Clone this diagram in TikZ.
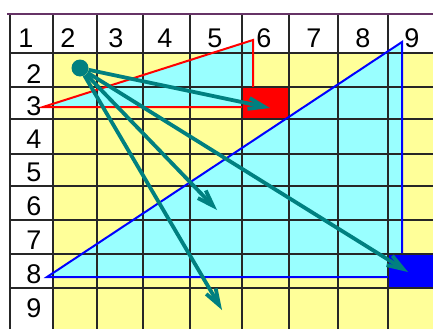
\documentclass[tikz,border=0pt]{standalone}
\usepackage{fontspec}
\setmainfont{Liberation Sans}
\usetikzlibrary{arrows.meta}

\definecolor{paleyellow}{HTML}{FFFF99}
\definecolor{palecyan}{HTML}{99FFFF}
\definecolor{tealray}{HTML}{008080}
\definecolor{topline}{HTML}{663366}

\begin{document}
\begin{tikzpicture}[
    x=1pt, y=-1pt,
    gridline/.style={black!85, line width=1.3pt},
    num/.style={font=\fontsize{27}{27}\selectfont, anchor=base, inner sep=0pt},
    edge/.style={line width=2pt, line join=miter},
    ray/.style={-{Straight Barb[length=16pt, width=11pt]}, tealray, line width=3.8pt},
  ]
  \useasboundingbox (0,0) rectangle (433,329);

  % cells
  \fill[paleyellow] (53,53) rectangle (433,329);
  \fill[palecyan] (43,107) -- (253,40) -- (253,107) -- cycle;
  \fill[palecyan] (47,277) -- (402,42) -- (402,277) -- cycle;
  \fill[red] (242,87) rectangle (289,119);
  \fill[blue] (388,253) rectangle (433,289);

  % grid
  \foreach \x in {10,53,97,143,190,242,289,338,388}
    \draw[gridline] (\x,14) -- (\x,329);
  \foreach \y in {53,87,119,154,186,220,254,288}
    \draw[gridline] (10,\y) -- (433,\y);
  \draw[topline, line width=1.2pt] (7,14) -- (433,14);

  % triangles
  \draw[edge, red] (253,87) -- (253,40) -- (43,107) -- (242,107);
  \draw[edge, blue] (388,277) -- (47,277) -- (402,42) -- (402,253);

  % numbers
  \foreach \n/\x in {1/26,2/68,3/116,4/165,5/215,6/264,7/314,8/363,9/412}
    \node[num] (c\n) at (\x,48) {\n};
  \foreach \n/\y in {2/83,3/115,4/148,5/181,6/215,7/249,8/283,9/317}
    \node[num] (r\n) at (34,\y) {\n};

  % rays
  \node[circle, fill=tealray, minimum size=17pt, inner sep=0pt] (src) at (80,68) {};
  \coordinate (redend) at (270,108);
  \coordinate (midend) at (217,210);
  \coordinate (lowend) at (222,310);
  \coordinate (blueend) at (408,272);
  \draw[ray] (src) -- (redend);
  \draw[ray] (src) -- (midend);
  \draw[ray] (src) -- (lowend);
  \draw[ray] (src) -- (blueend);
\end{tikzpicture}
\end{document}
